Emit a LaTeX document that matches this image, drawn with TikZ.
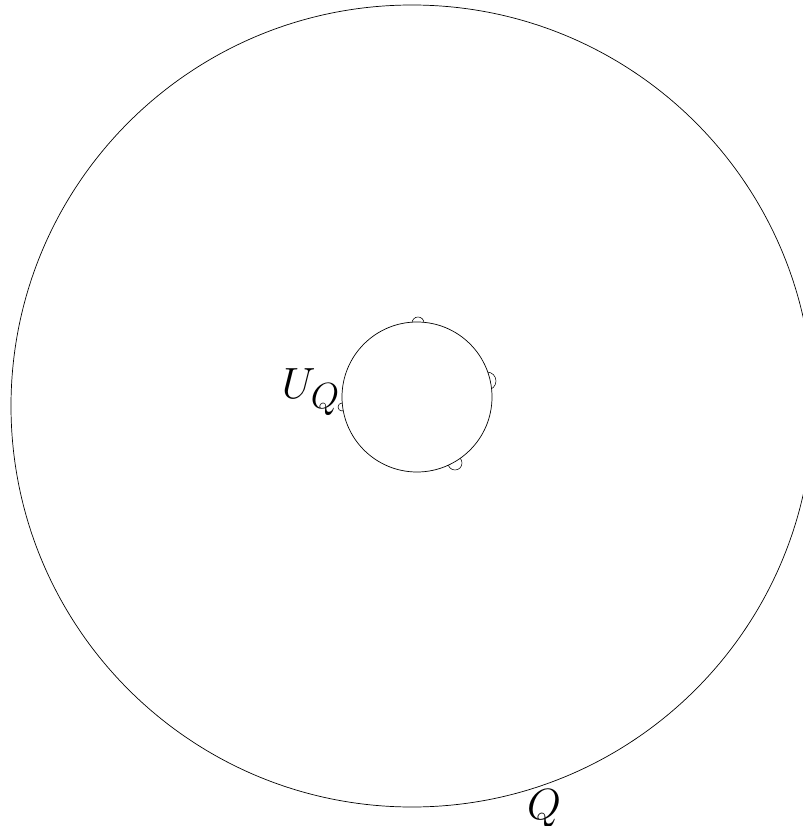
\documentclass[tikz,border=0pt]{standalone}
\usetikzlibrary{positioning}
\tikzset{
  bigset/.style={draw=black, line width=0.5pt},
  bump/.style={draw=black, line width=0.4pt},
  setlabel/.style={font=\Huge, inner sep=0pt, scale=1.25}
}
\begin{document}
\begin{tikzpicture}[x=0.025cm, y=-0.025cm]
  \useasboundingbox (0,0) rectangle (802,826);
  % outer set
  \draw[bigset] (412,406) circle (401);
  % bumps on the small set
  \draw[bump] (418,323) circle (6);
  \draw[bump] (487,381) circle (9);
  \draw[bump] (455,463) circle (7);
  \draw[bump] (342,407) circle (4);
  % small set
  \filldraw[bigset, fill=white] (417,397) circle (75);
  % labels
  \node[setlabel] (uq) at (311,392) {$U_Q$};
  \node[setlabel] (q) at (544,809) {$Q$};
\end{tikzpicture}
\end{document}
